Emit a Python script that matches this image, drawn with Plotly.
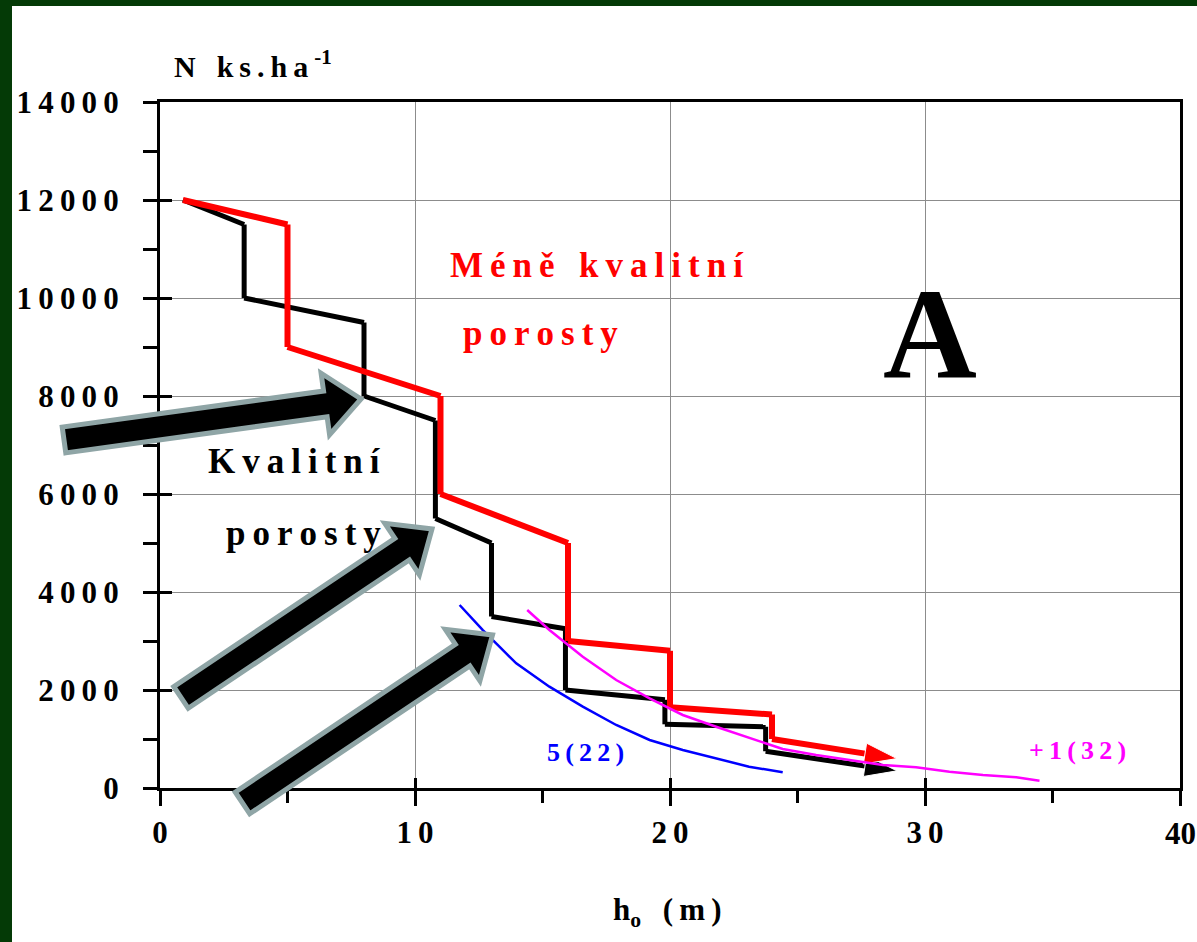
import math
import plotly.graph_objects as go

# ---------------- data ----------------
black_x = [0.9, 3.3, 3.3, 8.0, 8.0, 10.8, 10.8, 13.0, 13.0, 15.9, 15.9, 19.8, 19.8, 23.75, 23.75, 28.9]
black_y = [12000, 11500, 10000, 9500, 8000, 7500, 5500, 5000, 3500, 3250, 2000, 1800, 1300, 1250, 750, 350]

red_x = [0.9, 5.0, 5.0, 11.0, 11.0, 16.0, 16.0, 20.0, 20.0, 24.0, 24.0, 28.9]
red_y = [12000, 11500, 9000, 8000, 6000, 5000, 3000, 2800, 1650, 1500, 1000, 600]

blue_x = [11.75, 12.66, 13.31, 13.97, 15.27, 16.58, 17.89, 19.2, 20.5, 21.81, 23.1, 24.42]
blue_y = [3735, 3224, 2884, 2544, 2068, 1660, 1286, 980, 776, 606, 435, 320]

mag_x = [14.4, 15.27, 16.58, 17.89, 19.2, 20.5, 21.81, 23.1, 24.42, 25.73, 27.04, 28.35,
         29.65, 30.96, 32.27, 33.58, 34.49]
mag_y = [3633, 3224, 2680, 2204, 1830, 1490, 1251, 1020, 796, 673, 571, 469,
         422, 333, 265, 218, 149]

y_ticks = [0, 2000, 4000, 6000, 8000, 10000, 12000, 14000]
x_ticks = [0, 10, 20, 30, 40]

# ---------------- layout helpers ----------------
W, H = 1197, 942
ML, MR, MT, MB = 160, 17, 102, 154
PW, PH = W - ML - MR, H - MT - MB
SERIF = "Liberation Serif, Times New Roman, serif"
TS = "\u2009"  # thin space used for letter spacing
FRAME = "#043a06"


def px(x):
    return (x - ML) / PW


def py(y):
    return (H - MB - y) / PH


def spaced(s, gap="\u2002"):
    words = s.split(" ")
    return (TS + gap).join(TS.join(w) for w in words)


fig = go.Figure()

fig.add_trace(go.Scatter(x=black_x, y=black_y, mode="lines+markers",
                         line=dict(color="black", width=5),
                         marker=dict(symbol="arrow", angleref="previous", color="black", opacity=1,
                                     size=[0] * (len(black_x) - 1) + [34]),
                         showlegend=False, hoverinfo="skip"))
fig.add_trace(go.Scatter(x=red_x, y=red_y, mode="lines+markers",
                         line=dict(color="#ff0000", width=6),
                         marker=dict(symbol="arrow", angleref="previous", color="#ff0000", opacity=1,
                                     size=[0] * (len(red_x) - 1) + [34]),
                         showlegend=False, hoverinfo="skip"))
fig.add_trace(go.Scatter(x=blue_x, y=blue_y, mode="lines",
                         line=dict(color="#0000ff", width=2.5),
                         showlegend=False, hoverinfo="skip"))
fig.add_trace(go.Scatter(x=mag_x, y=mag_y, mode="lines",
                         line=dict(color="#ff00ff", width=2.5),
                         showlegend=False, hoverinfo="skip"))
# helper trace for the overlay axes (inner halves of crossing ticks)
fig.add_trace(go.Scatter(x=[None], y=[None], xaxis="x2", yaxis="y2",
                         showlegend=False, hoverinfo="skip"))

tickfont = dict(family=SERIF, size=31, color="black", weight="bold")
# the last x label sits at the page edge; it is drawn as a note below so the
# plot margins are not pushed
x_ticktext = [spaced(str(v)) for v in x_ticks[:-1]] + [""]

fig.update_layout(
    width=W, height=H, autosize=False,
    margin=dict(l=ML, r=MR, t=MT, b=MB, pad=0, autoexpand=False),
    paper_bgcolor=FRAME,
    plot_bgcolor="white",
    showlegend=False,
    xaxis=dict(range=[0, 40], tickvals=x_ticks, ticktext=x_ticktext, automargin=False,
               tickfont=tickfont, ticks="outside", ticklen=15, tickwidth=3, tickcolor="black",
               ticklabelstandoff=0,
               showline=True, linecolor="black", linewidth=3, mirror=True,
               showgrid=True, gridcolor="#8c8c8c", gridwidth=1, zeroline=False,
               minor=dict(tickvals=[5, 15, 25, 35], ticks="outside", ticklen=12,
                          tickwidth=3, tickcolor="black", showgrid=False)),
    yaxis=dict(range=[0, 14000], tickvals=y_ticks, automargin=False,
               ticktext=[spaced(str(v)) for v in y_ticks],
               tickfont=tickfont, ticks="outside", ticklen=14, tickwidth=3, tickcolor="black",
               ticklabelstandoff=18,
               showline=True, linecolor="black", linewidth=3, mirror=True,
               showgrid=True, gridcolor="#8c8c8c", gridwidth=1, zeroline=False,
               minor=dict(dtick=1000, ticks="outside", ticklen=14,
                          tickwidth=3, tickcolor="black", showgrid=False)),
    xaxis2=dict(range=[0, 40], overlaying="x", anchor="y2", tickvals=x_ticks, automargin=False,
                ticks="inside", ticklen=10, tickwidth=3, tickcolor="black",
                showticklabels=False, showgrid=False, showline=False, zeroline=False),
    yaxis2=dict(range=[0, 14000], overlaying="y", anchor="x2", tickvals=y_ticks, automargin=False,
                ticks="inside", ticklen=12, tickwidth=3, tickcolor="black",
                showticklabels=False, showgrid=False, showline=False, zeroline=False),
)

# white page inside the dark green frame
shapes = [dict(type="rect", xref="paper", yref="paper", layer="below",
               x0=px(12), x1=px(W), y0=py(6), y1=py(H),
               fillcolor="white", line=dict(width=0))]

# big callout arrows (pixel geometry: tail centre, tip)
ARROWS = [((64, 440), (361, 399)), ((181, 697.5), (432, 529)), ((242.5, 803), (492.5, 635))]
SHAFT, HEAD_W, HEAD_L = 13, 31, 36
for (tx, ty), (hx, hy) in ARROWS:
    dx, dy = hx - tx, hy - ty
    d = math.hypot(dx, dy)
    ux, uy = dx / d, dy / d
    nx, ny = -uy, ux
    bx, by = hx - ux * HEAD_L, hy - uy * HEAD_L
    pts = [(tx + nx * SHAFT, ty + ny * SHAFT), (bx + nx * SHAFT, by + ny * SHAFT),
           (bx + nx * HEAD_W, by + ny * HEAD_W), (hx, hy),
           (bx - nx * HEAD_W, by - ny * HEAD_W), (bx - nx * SHAFT, by - ny * SHAFT),
           (tx - nx * SHAFT, ty - ny * SHAFT)]
    path = "M " + " L ".join(f"{px(a):.5f},{py(b):.5f}" for a, b in pts) + " Z"
    shapes.append(dict(type="path", xref="paper", yref="paper", layer="above", path=path,
                       fillcolor="black", line=dict(color="#8fa5a6", width=5)))
fig.update_layout(shapes=shapes)


def note(text, x, y, size, color="black", xanchor="center", xref="paper"):
    fig.add_annotation(text=text, x=px(x) if xref == "paper" else x, y=py(y),
                       xref=xref, yref="paper",
                       xanchor=xanchor, yanchor="middle", showarrow=False,
                       font=dict(family=SERIF, size=size, color=color, weight="bold"))


# last x tick label, anchored to its tick value on the x axis (unspaced so it fits the page)
note(str(x_ticks[-1]), x_ticks[-1], 833, 31, xref="x")

note("N" + TS + "\u2002" + spaced("ks.ha") + TS + "<sup>-1</sup>", 172, 64, 30, xanchor="left")
note("h<sub>o</sub>" + TS + "\u2002" + spaced("(m)"), 667, 912, 31)
note(spaced("Méně kvalitní"), 597, 265, 35, "#ff0000")
note(spaced("porosty"), 540, 333, 35, "#ff0000")
note("A", 930, 333, 130)
note(spaced("Kvalitní"), 294, 462, 35)
note(spaced("porosty"), 303, 533, 35)
note(spaced("5(22)"), 585, 752, 26, "#0000ff")
note(spaced("+1(32)"), 1077, 750, 26, "#ff00ff")

PAGE_JS = (
    "var s=document.documentElement.style;s.overflow='hidden';s.margin='0';s.padding='0';"
    "var b=document.body.style;b.overflow='hidden';b.margin='0';b.padding='0';"
    "b.background='%s';"
    "var d=document.getElementById('{plot_id}');"
    "d.style.position='absolute';d.style.left='0px';d.style.top='0px';"
) % FRAME

fig.write_html("out.html", config={"displayModeBar": False}, post_script=PAGE_JS)
